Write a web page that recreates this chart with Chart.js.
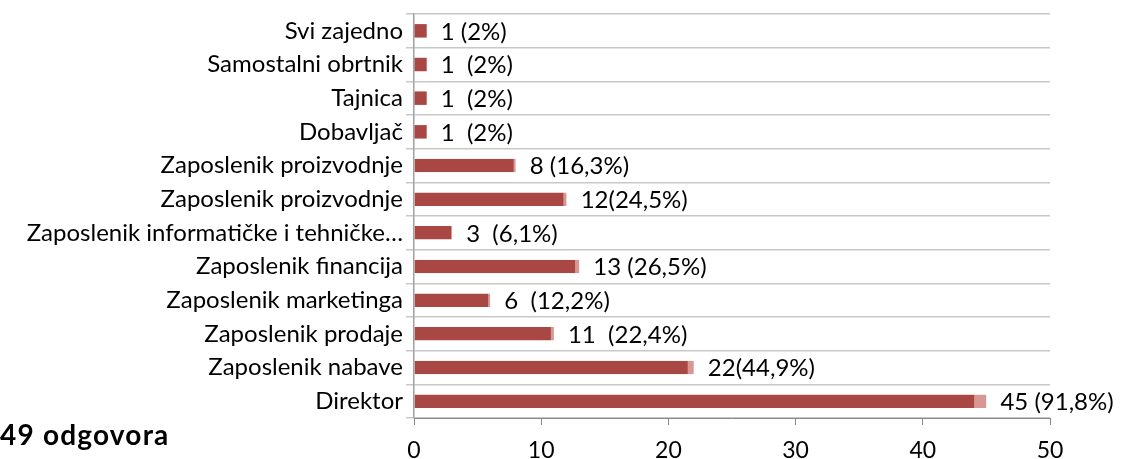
<!DOCTYPE html>
<html>
<head>
<meta charset="utf-8">
<script src="https://cdn.jsdelivr.net/npm/chart.js@4/dist/chart.umd.min.js"></script>
<style>
  html, body { margin: 0; padding: 0; background: #fff; }
  #wrap { position: relative; width: 1123px; height: 459px; }
  #total { position: absolute; left: 0; top: 419px; font: bold 28px/30px Lato, sans-serif; letter-spacing: 1.2px; color: #000; }
</style>
</head>
<body>
<div id="wrap">
  <canvas id="maincanvas" width="1123" height="459"></canvas>
  <div id="total">49 odgovora</div>
</div>
<script>
var kategorije = ["Svi zajedno", "Samostalni obrtnik", "Tajnica", "Dobavljač", "Zaposlenik proizvodnje",
  "Zaposlenik proizvodnje", "Zaposlenik informatičke i tehničke…", "Zaposlenik financija",
  "Zaposlenik marketinga", "Zaposlenik prodaje", "Zaposlenik nabave", "Direktor"];
var odgovori = [1, 1, 1, 1, 8, 12, 3, 13, 6, 11, 22, 45];
var oznake = ["1 (2%)", "1  (2%)", "1  (2%)", "1  (2%)", "8 (16,3%)", "12(24,5%)", "3  (6,1%)",
  "13 (26,5%)", "6  (12,2%)", "11  (22,4%)", "22(44,9%)", "45 (91,8%)"];
var xTicks = [0, 10, 20, 30, 40, 50];

var labelPlugin = {
  id: "oznake",
  afterDatasetsDraw: function(chart){
    var ctx = chart.ctx;
    var meta = chart.getDatasetMeta(0);
    ctx.save();
    ctx.font = "24px Lato, sans-serif";
    ctx.fillStyle = "#000";
    ctx.textBaseline = "middle";
    meta.data.forEach(function(bar, i){
      ctx.fillText(oznake[i], bar.x + 14, bar.y + 1);
    });
    ctx.restore();
  }
};

var mainchart = document.getElementById("maincanvas").getContext("2d");
var mainBarChart = new Chart(mainchart, {
  type: "bar",
  data: {
    labels: kategorije,
    datasets: [{
      data: odgovori,
      backgroundColor: "#A94744",
      borderColor: "#D99694",
      borderSkipped: false,
      borderWidth: function(c){
        return { top: 0, bottom: 0, left: 0, right: Math.round(c.raw * 0.27) };
      },
      barPercentage: 0.4,
      categoryPercentage: 1
    }]
  },
  options: {
    indexAxis: "y",
    responsive: false,
    animation: false,
    layout: { padding: { top: 14, right: 73, left: 0, bottom: 0 } },
    plugins: { legend: { display: false }, tooltip: { enabled: false } },
    scales: {
      x: {
        min: 0, max: 50,
        afterBuildTicks: function(s){ s.ticks = xTicks.map(function(v){ return { value: v }; }); },
        afterFit: function(s){ s.height = 41; },
        grid: { drawOnChartArea: false, drawTicks: true, tickLength: 7, color: "#888", lineWidth: 1 },
        border: { display: true, color: "#888" },
        ticks: { color: "#000", font: { family: "Lato", size: 23 }, padding: 12 }
      },
      y: {
        afterFit: function(s){ s.width = 414; s.paddingTop = 0; s.paddingBottom = 0; },
        grid: { offset: true, drawTicks: true, tickLength: 8, color: "#C8C8C8", lineWidth: 1.5 },
        border: { display: true, color: "#A0A0A0", width: 1.5 },
        ticks: { color: "#000", font: { family: "Lato", size: 24, lineHeight: 1 }, padding: 3 }
      }
    }
  },
  plugins: [labelPlugin]
});
</script>
</body>
</html>
